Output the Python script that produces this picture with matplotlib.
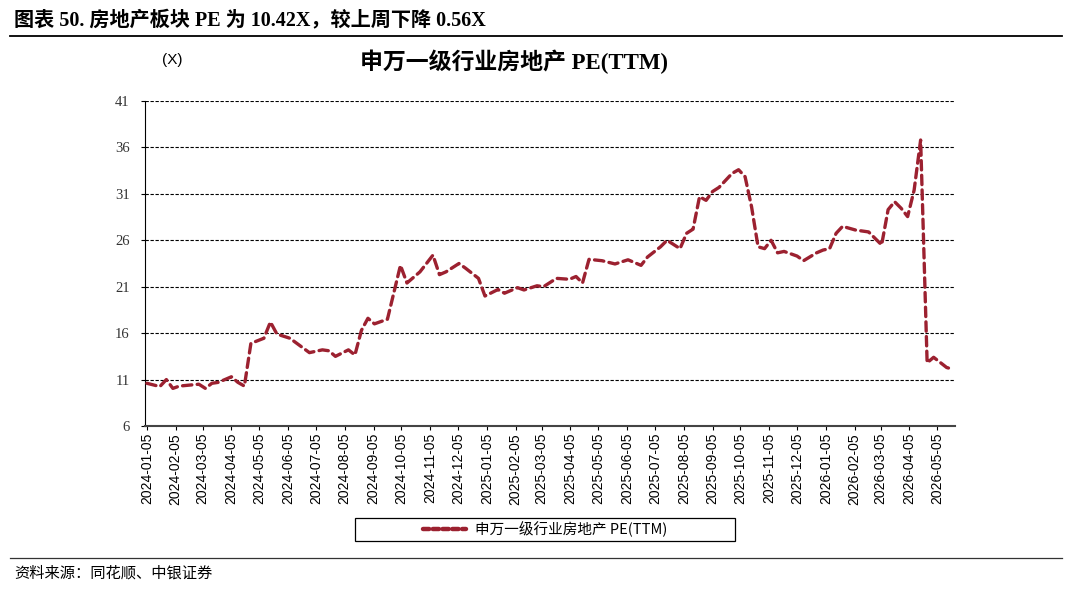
import numpy as np, pandas as pd
import matplotlib; matplotlib.use("Agg")
import matplotlib.pyplot as plt
import matplotlib.dates as mdates
from matplotlib.lines import Line2D
from matplotlib.patches import Rectangle

plt.rcParams['font.family'] = ['Liberation Sans', 'Noto Sans CJK SC']

# weekly observations, counted in weeks from 2024-01-05
start = "2024-01-05"
week_no = [0, 2, 3, 4, 5, 8, 9, 10, 11, 13, 14, 15, 16, 18, 19, 20, 22, 25, 27, 28,
           29, 31, 32, 33, 34, 35, 37, 39, 40, 42, 44, 45, 46, 48, 49, 51, 52, 54, 55, 57,
           58, 60, 61, 63, 65, 66, 67, 68, 70, 72, 74, 76, 77, 79, 80, 82, 83, 84, 85, 86,
           87, 88, 90, 91, 92, 93, 94, 95, 96, 97, 98, 100, 101, 103, 104, 105, 106, 107, 109, 111,
           113, 114, 115, 116, 117, 118, 119, 120, 121, 123, 124]
pe_ttm = [10.6, 10.25, 11.0, 10.05, 10.3, 10.5, 10.05, 10.6, 10.7, 11.3, 10.7, 10.3, 14.9, 15.45, 17.2, 15.9, 15.45, 13.9, 14.2, 14.1,
          13.5, 14.2, 13.65, 16.3, 17.6, 17.0, 17.5, 23.3, 21.4, 22.6, 24.4, 22.3, 22.6, 23.5, 23.0, 21.9, 20.0, 20.7, 20.3, 20.9,
          20.65, 21.1, 21.0, 21.9, 21.8, 22.1, 21.4, 23.95, 23.8, 23.45, 23.9, 23.3, 24.2, 25.3, 26.0, 25.1, 26.75, 27.2, 30.7, 30.3,
          31.25, 31.7, 33.2, 33.6, 32.85, 29.6, 25.3, 25.1, 26.0, 24.65, 24.8, 24.3, 23.8, 24.65, 24.95, 25.1, 26.75, 27.5, 27.1, 26.9,
          25.5, 29.3, 30.15, 29.45, 28.55, 31.4, 36.8, 12.8, 13.4, 12.3, 12.1]
y_ticks = [6, 11, 16, 21, 26, 31, 36, 41]
series_name = "申万一级行业房地产 PE(TTM)"

dates = pd.Timestamp(start) + pd.to_timedelta(np.array(week_no) * 7, unit="D")
RED = "#9C2130"
CJK_SERIF = ['Liberation Serif', 'Noto Sans CJK SC']

fig = plt.figure(figsize=(10.8, 5.91), dpi=100)
ax = fig.add_axes([145/1080, 1-426/591, (955-145)/1080, (426-101)/591])

ln, = ax.plot(dates, pe_ttm, color=RED, lw=2.4, dash_capstyle="round", zorder=3)
ln.set_dashes([2.8, 1.6])

ax.set_ylim(6, 41); ax.set_yticks(y_ticks)
ax.set_xlim(pd.Timestamp(start) - pd.Timedelta(days=2), dates[-1] + pd.Timedelta(days=2))
ax.xaxis.set_major_locator(mdates.MonthLocator(bymonthday=5))
ax.xaxis.set_major_formatter(mdates.DateFormatter("%Y-%m-%d"))
for t in ax.get_xticklabels():
    t.set_rotation(90); t.set_fontsize(10)
for t in ax.get_yticklabels():
    t.set_fontfamily("Liberation Serif"); t.set_fontsize(10.5); t.set_color("#333")
ax.tick_params(axis="both", length=3, width=0.8, direction="out", pad=2)
ax.tick_params(axis="y", pad=8)
ax.grid(axis="y", ls=(0, (3, 1.5)), color="black", lw=0.8)
ax.set_axisbelow(True)
for s in ["top", "right"]:
    ax.spines[s].set_visible(False)
ax.spines["left"].set_color("black"); ax.spines["bottom"].set_color("#444")
ax.spines["bottom"].set_linewidth(1.5)

# legend: frame drawn as its own box, wider than the entry
fig.add_artist(Rectangle((355/1080, 1-541/591), 380/1080, 23/591, transform=fig.transFigure,
                         facecolor="white", edgecolor="black", lw=0.9))
h = Line2D([], [], color=RED, lw=3.2, dashes=[1.4, 0.8], dash_capstyle="round")
leg = fig.legend([h], [series_name], loc="center", bbox_to_anchor=(545/1080, 1-529.5/591),
                 frameon=False, fontsize=10.5, handlelength=3.0, handletextpad=0.6)
leg.get_texts()[0].set_fontfamily(['Liberation Sans Narrow', 'Noto Sans CJK SC'])

# header, titles and footer
fig.text(14/1080, 1-20/591, "图表 50. 房地产板块 PE 为 10.42X，较上周下降 0.56X",
         fontsize=14.5, fontweight="bold", family=CJK_SERIF, va="center", ha="left")
fig.add_artist(Line2D([10/1080, 1062/1080], [1-36/591]*2, color="black", lw=1.3))
fig.text(172/1080, 1-60/591, "(X)", fontsize=11, va="center", ha="center")
fig.text(514/1080, 1-62/591, "申万一级行业房地产 PE(TTM)", fontsize=16.5, fontweight="bold",
         family=CJK_SERIF, va="center", ha="center")
fig.add_artist(Line2D([10/1080, 1062/1080], [1-558/591]*2, color="#333", lw=0.9))
fig.text(14/1080, 1-573/591, "资料来源：同花顺、中银证券", fontsize=11, style="italic",
         va="center", ha="left", family=['Noto Sans CJK SC'])

fig.savefig("out.png", dpi=100)
